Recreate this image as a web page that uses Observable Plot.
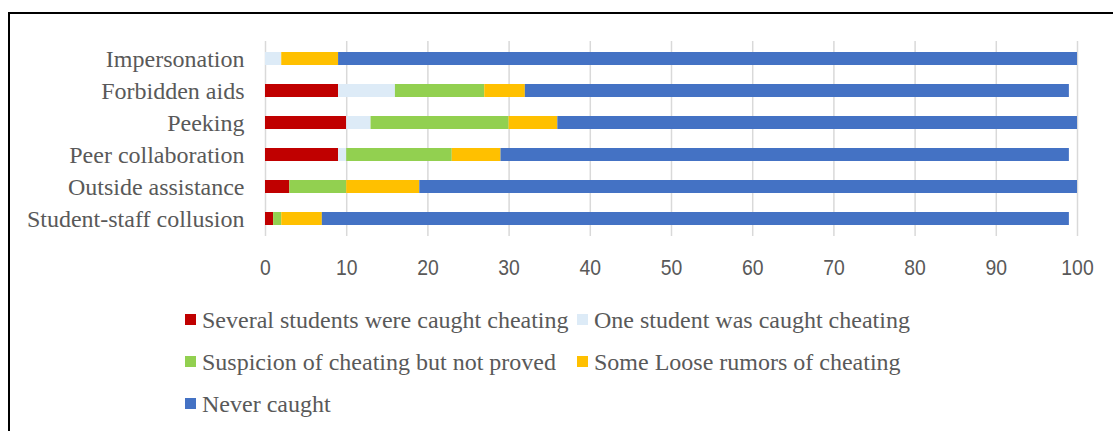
<!DOCTYPE html>
<html>
<head>
<meta charset="utf-8">
<script src="https://cdn.jsdelivr.net/npm/d3@7"></script>
<script src="https://cdn.jsdelivr.net/npm/@observablehq/plot@0.6"></script>
<style>
  html, body { margin: 0; padding: 0; background: #fff; }
  body { width: 1113px; height: 431px; position: relative; overflow: hidden; }
  #frame { position: absolute; left: 8px; top: 12px; width: 1200px; height: 500px;
           border-left: 2px solid #000; border-top: 2px solid #000; }
  #chart { position: absolute; left: 0; top: 0; }
  .lg { position: absolute; font-family: "Liberation Serif", "Times New Roman", serif;
        font-size: 24px; color: #595959; white-space: nowrap; line-height: 1; }
  .sw { position: absolute; width: 11px; height: 11px; }
</style>
</head>
<body>
<div id="frame"></div>
<div id="chart"></div>
<div id="legend"></div>
<script>
const categories = ["Impersonation", "Forbidden aids", "Peeking", "Peer collaboration", "Outside assistance", "Student-staff collusion"];
const seriesNames = ["Several students were caught cheating", "One student was caught cheating", "Suspicion of cheating but not proved", "Some Loose rumors of cheating", "Never caught"];
const seriesColors = ["#C00000", "#DDEBF7", "#92D050", "#FFC000", "#4472C4"];
const several   = [0, 9, 10, 9, 3, 1];
const oneStudent = [2, 7, 3, 1, 0, 0];
const suspicion = [0, 11, 17, 13, 7, 1];
const rumors    = [7, 5, 6, 6, 9, 5];
const never     = [91, 67, 64, 70, 81, 92];
const xTicks = [0, 10, 20, 30, 40, 50, 60, 70, 80, 90, 100];

const seriesValues = [several, oneStudent, suspicion, rumors, never];
const rows = [];
categories.forEach((c, i) => {
  seriesNames.forEach((s, j) => {
    const v = seriesValues[j][i];
    if (v > 0) rows.push({cat: c, series: s, value: v});
  });
});

const chart = Plot.plot({
  width: 1113,
  height: 290,
  marginLeft: 265,
  marginRight: 36,
  marginTop: 41,
  marginBottom: 54,
  style: {background: "transparent", overflow: "visible"},
  x: {domain: [0, 100], ticks: xTicks, label: null},
  y: {domain: categories, paddingInner: 0.6, paddingOuter: 0.29, label: null},
  color: {domain: seriesNames, range: seriesColors},
  marks: [
    Plot.ruleX(xTicks, {stroke: "#d9d9d9", strokeWidth: 1.5, y1: null, y2: null}),
    Plot.barX(rows, Plot.stackX({x: "value", y: "cat", fill: "series", order: null})),
    Plot.axisX({ticks: xTicks, tickSize: 0, tickPadding: 23, fontSize: 22, fill: "#595959",
      fontFamily: "'Liberation Sans', Arial, sans-serif", label: null}),
    Plot.axisY({tickSize: 0, tickPadding: 21, fontSize: 24, fill: "#595959",
      fontFamily: "'Liberation Serif', 'Times New Roman', serif", label: null})
  ]
});
// narrow the numeric tick labels horizontally (Calibri-like proportions)
chart.querySelectorAll('g[aria-label="x-axis tick label"] text').forEach(t => {
  const tr = t.getAttribute("transform") || "";
  t.setAttribute("transform", tr + " scale(0.88,1)");
});
document.getElementById("chart").appendChild(chart);

// legend
const legendPos = [
  {x: 185, y: 320}, {x: 577, y: 320},
  {x: 185, y: 362}, {x: 577, y: 362},
  {x: 185, y: 404}
];
const lg = document.getElementById("legend");
seriesNames.forEach((s, i) => {
  const p = legendPos[i];
  const sw = document.createElement("div");
  sw.className = "sw";
  sw.style.left = p.x + "px";
  sw.style.top = (p.y - 6) + "px";
  sw.style.background = seriesColors[i];
  lg.appendChild(sw);
  const t = document.createElement("div");
  t.className = "lg";
  t.style.left = (p.x + 17) + "px";
  t.style.top = (p.y - 12) + "px";
  t.textContent = s;
  lg.appendChild(t);
});
</script>
</body>
</html>
